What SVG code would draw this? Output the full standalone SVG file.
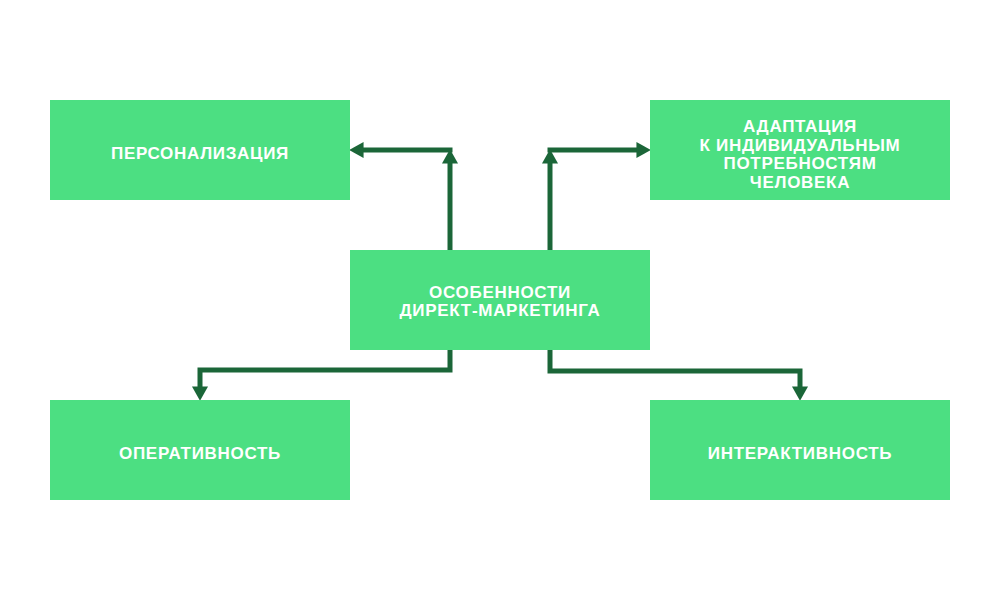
<svg xmlns="http://www.w3.org/2000/svg" width="1000" height="600" viewBox="0 0 1000 600">
<defs>
<style>
.box{fill:#4cdf82;}
.t{fill:#ffffff;font-family:"Liberation Sans",Arial,sans-serif;font-weight:bold;font-size:17px;letter-spacing:0.7px;text-anchor:middle;}
.c{fill:none;stroke:#1b6638;stroke-width:5;stroke-linejoin:miter;}
</style>
<marker id="ah" markerUnits="userSpaceOnUse" markerWidth="15" markerHeight="16" refX="8" refY="7.5" orient="auto" viewBox="0 0 14 15">
<path d="M0,0 L13.5,7.5 L0,15 z" fill="#1b6638"/>
</marker>
</defs>
<rect width="1000" height="600" fill="#ffffff"/>
<g id="connectors">
<path class="c" d="M450,250 V155" marker-end="url(#ah)"/>
<path class="c" d="M452.5,150 H355" marker-end="url(#ah)"/>
<path class="c" d="M550,250 V155" marker-end="url(#ah)"/>
<path class="c" d="M547.5,150 H645" marker-end="url(#ah)"/>
<path class="c" d="M450,350 V370 H200 V395" marker-end="url(#ah)"/>
<path class="c" d="M550,350 V371 H800 V395" marker-end="url(#ah)"/>
</g>
<g id="personalization">
<rect class="box" x="50" y="100" width="300" height="100"/>
<text class="t" x="200" y="159">ПЕРСОНАЛИЗАЦИЯ</text>
</g>
<g id="adaptation">
<rect class="box" x="650" y="100" width="300" height="100"/>
<text class="t" x="800" y="132">АДАПТАЦИЯ</text>
<text class="t" x="800" y="150.5">К ИНДИВИДУАЛЬНЫМ</text>
<text class="t" x="800" y="169">ПОТРЕБНОСТЯМ</text>
<text class="t" x="800" y="187.5">ЧЕЛОВЕКА</text>
</g>
<g id="center">
<rect class="box" x="350" y="250" width="300" height="100"/>
<text class="t" x="500" y="298">ОСОБЕННОСТИ</text>
<text class="t" x="500" y="316">ДИРЕКТ-МАРКЕТИНГА</text>
</g>
<g id="operativeness">
<rect class="box" x="50" y="400" width="300" height="100"/>
<text class="t" x="200" y="459">ОПЕРАТИВНОСТЬ</text>
</g>
<g id="interactivity">
<rect class="box" x="650" y="400" width="300" height="100"/>
<text class="t" x="800" y="459">ИНТЕРАКТИВНОСТЬ</text>
</g>
</svg>
